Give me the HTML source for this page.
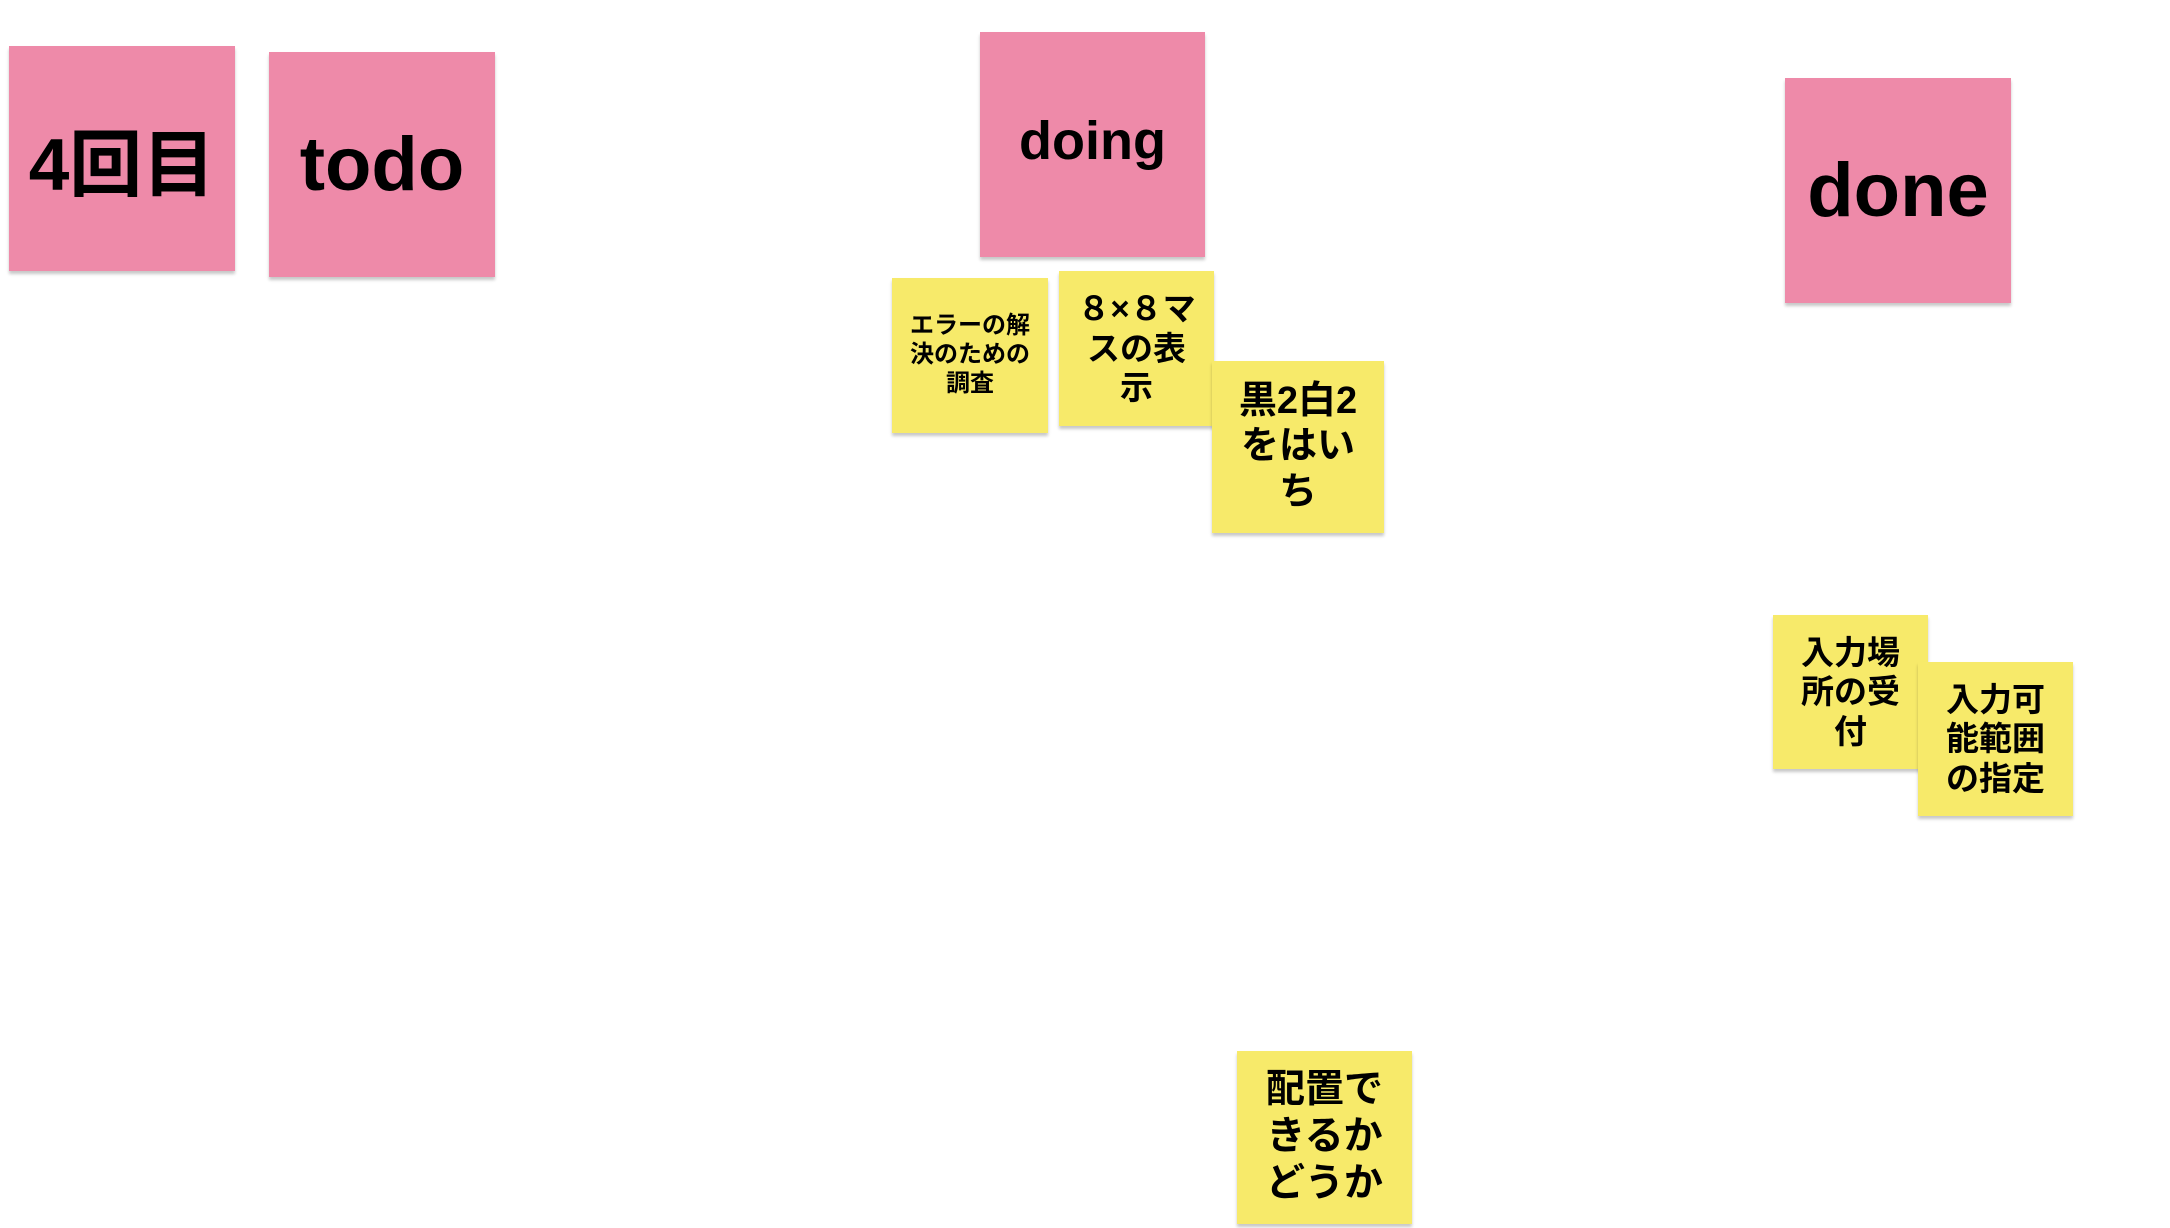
<!DOCTYPE html>
<html><head><meta charset="utf-8"><style>
html,body{margin:0;padding:0;background:#fff;width:2170px;height:1228px;overflow:hidden;position:relative}
.n{position:absolute;display:flex;align-items:center;justify-content:center;text-align:center;font-family:"Liberation Sans","Noto Sans CJK JP",sans-serif;font-weight:bold;color:#000;box-shadow:0 3px 3px rgba(0,0,0,0.22);box-sizing:border-box}
.p{background:#ee8aa9}
.y{background:#f7ea6a;line-height:1.2}
</style></head><body>
<div class="n p" style="left:9px;top:46px;width:226px;height:225px;font-size:73px">4回目</div>
<div class="n p" style="left:269px;top:52px;width:226px;height:225px;font-size:76px">todo</div>
<div class="n p" style="left:980px;top:32px;width:225px;height:225px;font-size:54px;padding-bottom:8px">doing</div>
<div class="n p" style="left:1785px;top:78px;width:226px;height:225px;font-size:76px">done</div>
<div class="n y" style="left:892px;top:278px;width:156px;height:155px;font-size:24px">エラーの解<br>決のための<br>調査</div>
<div class="n y" style="left:1059px;top:271px;width:155px;height:155px;font-size:33px">８×８マ<br>スの表<br>示</div>
<div class="n y" style="left:1212px;top:361px;width:172px;height:172px;font-size:38px">黒2白2<br>をはい<br>ち</div>
<div class="n y" style="left:1773px;top:615px;width:155px;height:154px;font-size:33px">入力場<br>所の受<br>付</div>
<div class="n y" style="left:1918px;top:662px;width:155px;height:154px;font-size:33px">入力可<br>能範囲<br>の指定</div>
<div class="n y" style="left:1237px;top:1051px;width:175px;height:173px;font-size:39px">配置で<br>きるか<br>どうか</div>
</body></html>
